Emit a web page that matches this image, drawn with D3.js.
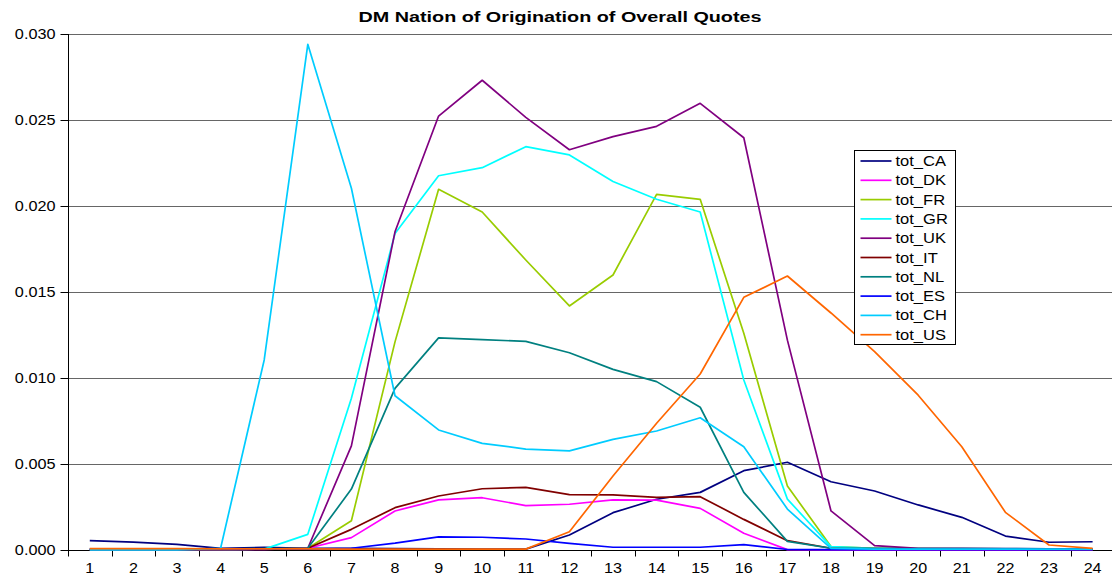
<!DOCTYPE html>
<html>
<head>
	<meta charset="utf-8">
	<script type="text/javascript" src="https://cdn.jsdelivr.net/npm/d3@7/dist/d3.min.js"></script>
	<title>DM Nation of Origination of Overall Quotes</title>
	<style>
		body { margin: 0; background: #fff; }
		text { font-family: "Liberation Sans", Arial, sans-serif; }
	</style>
</head>
<body>
<script type="text/javascript">

	/*------ data ------*/

	var hours = ['1','2','3','4','5','6','7','8','9','10','11','12','13','14','15','16','17','18','19','20','21','22','23','24'];
	var yTicks = [0, 0.005, 0.010, 0.015, 0.020, 0.025, 0.030];

	var tot_CA = [0.00054,0.00046,0.00033,0.0001,0.00015,0.0001,0.0001,0.00008,0.00006,0.00005,0.00005,0.00087,0.00217,0.00295,0.00335,0.00461,0.0051,0.00397,0.00343,0.00262,0.0019,0.00081,0.00045,0.00048];
	var tot_DK = [0.00002,0.00002,0.00002,0.00002,0.00003,0.0001,0.00072,0.00227,0.00291,0.00304,0.00258,0.00266,0.00291,0.0029,0.00242,0.00097,0.00002,0.00001,0.00001,0.00001,0.00001,0.00001,0.00001,0.00001];
	var tot_FR = [0.00003,0.00003,0.00003,0.00003,0.00005,0.0001,0.0017,0.0121,0.02097,0.01965,0.01686,0.01419,0.01599,0.02068,0.02039,0.0126,0.00372,0.0002,0.0001,0.0001,0.00008,0.00006,0.00005,0.00005];
	var tot_GR = [0.00002,0.00002,0.00002,0.00002,0.00005,0.00091,0.00882,0.0184,0.02176,0.02223,0.02345,0.02297,0.02142,0.02039,0.01965,0.00988,0.00296,0.0002,0.0001,0.0001,0.0001,0.00008,0.00006,0.00005];
	var tot_UK = [0.00002,0.00002,0.00002,0.00002,0.00005,0.0001,0.00605,0.0185,0.02523,0.02731,0.02515,0.02327,0.02403,0.02463,0.02597,0.02397,0.0122,0.00227,0.00025,0.0001,0.0001,0.00008,0.00006,0.00005];
	var tot_IT = [0.00003,0.00003,0.00003,0.00003,0.00005,0.0001,0.0012,0.00246,0.00314,0.00356,0.00364,0.00322,0.0032,0.00306,0.0031,0.00178,0.00054,0.0001,0.00008,0.00006,0.00005,0.00005,0.00004,0.00004];
	var tot_NL = [0.00005,0.00005,0.00005,0.00005,0.00008,0.0001,0.00354,0.0094,0.01233,0.01223,0.01213,0.01147,0.0105,0.00979,0.0083,0.00335,0.0005,0.0001,0.00008,0.00006,0.00005,0.00005,0.00004,0.00004];
	var tot_ES = [0.00005,0.00005,0.00005,0.00005,0.00005,0.00005,0.0001,0.0004,0.00076,0.00074,0.00064,0.00039,0.00016,0.00016,0.00016,0.00031,0.00003,0.00002,0.00002,0.00002,0.00002,0.00002,0.00002,0.00002];
	var tot_CH = [0.00001,0.00001,0.00001,0.0001,0.01105,0.0294,0.02103,0.00897,0.00698,0.0062,0.00587,0.00576,0.00643,0.00692,0.00769,0.006,0.00238,0.0001,0.00005,0.00005,0.00005,0.00005,0.00005,0.00005];
	var tot_US = [0.00008,0.00008,0.00008,0.00006,0.00006,0.00006,0.00005,0.00005,0.00005,0.00005,0.00005,0.00106,0.0043,0.00737,0.01023,0.01469,0.01593,0.01378,0.01153,0.009,0.006,0.00219,0.00029,0.0001];

	var seriesNames = ['tot_CA','tot_DK','tot_FR','tot_GR','tot_UK','tot_IT','tot_NL','tot_ES','tot_CH','tot_US'];
	var seriesValues = [tot_CA, tot_DK, tot_FR, tot_GR, tot_UK, tot_IT, tot_NL, tot_ES, tot_CH, tot_US];
	var seriesColors = ['#000080','#FF00FF','#99CC00','#00FFFF','#800080','#800000','#008080','#0000FF','#00CCFF','#FF6600'];

	/*----- sizes -----*/

	var svgWidth = 1112;
	var svgHeight = 583;
	var plotLeft = 68;
	var plotRight = 68 + 24 * 43.6;
	var plotTop = 34;
	var plotBottom = 550;

	var svg = d3.select('body')
			.append('svg')
			.attr('width', svgWidth)
			.attr('height', svgHeight);

	var xScale = d3.scaleBand()
			.domain(hours)
			.range([plotLeft, plotRight]);

	var yScale = d3.scaleLinear()
			.domain([0, 0.030])
			.range([plotBottom, plotTop]);

	function xCenter(h) {
		return xScale(h) + xScale.bandwidth() / 2;
	}

	// the original picture is a bit wider than tall, so the text is stretched
	function stretch(sel, factor) {
		sel.each(function () {
			var w = this.getComputedTextLength();
			d3.select(this)
				.attr('textLength', w * factor)
				.attr('lengthAdjust', 'spacingAndGlyphs');
		});
	}

	// gridlines
	svg.append('g')
		.selectAll('line')
		.data(yTicks.slice(1))
		.enter()
		.append('line')
		.attr('x1', plotLeft)
		.attr('x2', svgWidth)
		.attr('y1', function (d) { return Math.round(yScale(d)) + 0.5; })
		.attr('y2', function (d) { return Math.round(yScale(d)) + 0.5; })
		.attr('stroke', '#666')
		.attr('stroke-width', 1.2);

	// y axis
	var yAxis = svg.append('g')
		.attr('transform', 'translate(' + (plotLeft + 0.5) + ',0)')
		.call(d3.axisLeft(yScale)
			.tickValues(yTicks)
			.tickSize(8)
			.tickPadding(5)
			.tickFormat(d3.format('.3f')));
	yAxis.select('.domain').attr('stroke', '#000').attr('d', 'M0,' + plotTop + 'V' + plotBottom);
	yAxis.selectAll('.tick line').attr('stroke', '#000');
	yAxis.selectAll('.tick text')
		.attr('font-size', 14)
		.attr('fill', '#000')
		.call(stretch, 1.16);

	// x axis: labels centred in each category, ticks on the boundaries
	var xAxis = svg.append('g')
		.attr('transform', 'translate(0,' + (plotBottom + 0.5) + ')')
		.call(d3.axisBottom(xScale)
			.tickSize(0)
			.tickPadding(13));
	xAxis.select('.domain').attr('stroke', '#000').attr('d', 'M' + plotLeft + ',0H' + plotRight);
	xAxis.selectAll('.tick text')
		.attr('font-size', 14)
		.attr('fill', '#000')
		.call(stretch, 1.15);

	var bounds = hours.map(function (h) { return xScale(h); });
	bounds.push(plotRight);
	xAxis.selectAll('.bound')
		.data(bounds)
		.enter()
		.append('line')
		.attr('class', 'bound')
		.attr('x1', function (d) { return Math.round(d) + 0.5; })
		.attr('x2', function (d) { return Math.round(d) + 0.5; })
		.attr('y1', 0)
		.attr('y2', 6)
		.attr('stroke', '#000');

	// the series
	var line = d3.line()
		.x(function (d, i) { return xCenter(hours[i]); })
		.y(function (d) { return yScale(d); });

	svg.append('g')
		.selectAll('path')
		.data(seriesValues)
		.enter()
		.append('path')
		.attr('d', function (d) { return line(d); })
		.attr('fill', 'none')
		.attr('stroke', function (d, i) { return seriesColors[i]; })
		.attr('stroke-width', 1.7)
		.attr('stroke-linejoin', 'round');

	// title
	svg.append('text')
		.attr('x', 560)
		.attr('y', 22)
		.attr('text-anchor', 'middle')
		.attr('font-size', 14)
		.attr('font-weight', 'bold')
		.attr('textLength', 403)
		.attr('lengthAdjust', 'spacingAndGlyphs')
		.text('DM Nation of Origination of Overall Quotes');

	// legend
	var legend = svg.append('g')
		.attr('transform', 'translate(854.5,150.5)');

	legend.append('rect')
		.attr('width', 101)
		.attr('height', 194)
		.attr('fill', '#fff')
		.attr('stroke', '#000');

	var items = legend.selectAll('.item')
		.data(seriesNames)
		.enter()
		.append('g')
		.attr('class', 'item')
		.attr('transform', function (d, i) { return 'translate(0,' + (10.5 + i * 19.3) + ')'; });

	items.append('line')
		.attr('x1', 6)
		.attr('x2', 37)
		.attr('stroke', function (d, i) { return seriesColors[i]; })
		.attr('stroke-width', 1.7);

	items.append('text')
		.attr('x', 41)
		.attr('y', 5)
		.attr('font-size', 14)
		.text(function (d) { return d; })
		.call(stretch, 1.18);

</script>
</body>
</html>
